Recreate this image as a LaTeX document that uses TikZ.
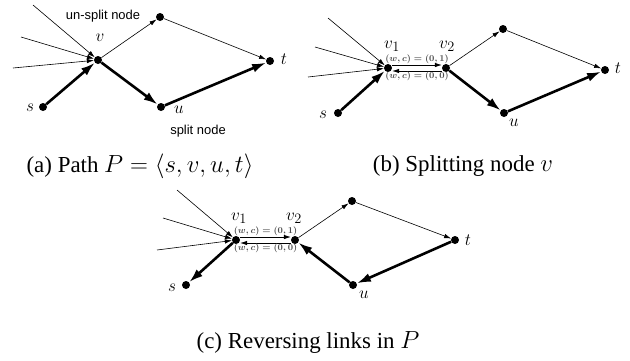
\documentclass[tikz,border=0pt]{standalone}
\usepackage{fontspec}
\setmainfont{Liberation Serif}
\setsansfont{Liberation Sans}
\usetikzlibrary{arrows.meta}
\begin{document}
\begin{tikzpicture}[x=1bp,y=-1bp,
  dot/.style={circle,fill=black,inner sep=0pt,minimum size=8bp},
  lbl/.style={font=\fontsize{19}{21}\selectfont,inner sep=0pt},
  note/.style={font=\sffamily\fontsize{13}{15}\selectfont,inner sep=0pt},
  wc/.style={font=\fontsize{9}{10}\selectfont\boldmath,text=black!70,inner sep=0.5pt},
  captxt/.style={font=\fontsize{23}{26}\selectfont},
  thinedge/.style={-{Latex[length=7bp,width=4.5bp]},line width=0.6bp},
  pathedge/.style={-{Latex[length=14bp,width=9bp]},line width=2.6bp}]
\useasboundingbox (0,0) rectangle (630,360);
% (a) path P
\node[dot] (sA) at (43,107) {}; \node[dot] (vA) at (98,60) {}; \node[dot] (wA) at (160,17) {};
\node[dot] (tA) at (270,61) {}; \node[dot] (uA) at (161,107) {};
\coordinate (inA1) at (33,5); \coordinate (inA2) at (21,37); \coordinate (inA3) at (13,68);
\draw[thinedge] (inA1) -- (vA); \draw[thinedge] (inA2) -- (vA); \draw[thinedge] (inA3) -- (vA);
\draw[thinedge] (vA) -- (wA); \draw[thinedge] (wA) -- (tA);
\draw[pathedge] (sA) -- (vA); \draw[pathedge] (vA) -- (uA); \draw[pathedge] (uA) -- (tA);
\node[lbl] (sAl) at (30,108) {$s$}; \node[lbl] (vAl) at (100,38) {$v$};
\node[lbl] (uAl) at (179,110) {$u$}; \node[lbl] (tAl) at (284,59) {$t$};
\node[note] (unsplit) at (103,16) {un-split node};
\node[note] (split) at (198,131) {split node};
\node[captxt] (capA) at (140,166) {(a) Path $P=\langle s,v,u,t\rangle$};
% (b) splitting node v
\node[dot] (sB) at (338,113) {}; \node[dot] (vB1) at (388,68) {}; \node[dot] (vB2) at (446,68) {};
\node[dot] (wB) at (503,29) {}; \node[dot] (tB) at (605,70) {}; \node[dot] (uB) at (504,113) {};
\coordinate (inB1) at (328,18); \coordinate (inB2) at (315,47); \coordinate (inB3) at (308,77);
\draw[thinedge] (inB1) -- (vB1); \draw[thinedge] (inB2) -- (vB1); \draw[thinedge] (inB3) -- (vB1);
\draw[thinedge] ([yshift=3bp]vB1.east) -- node[wc,above] (wcB1) {$(w,c)=(0,1)$} ([yshift=3bp]vB2.west);
\draw[thinedge] ([yshift=-3bp]vB2.west) -- node[wc,below] (wcB0) {$(w,c)=(0,0)$} ([yshift=-3bp]vB1.east);
\draw[thinedge] (vB2) -- (wB); \draw[thinedge] (wB) -- (tB);
\draw[pathedge] (sB) -- (vB1); \draw[pathedge] (vB2) -- (uB); \draw[pathedge] (uB) -- (tB);
\node[lbl] (sBl) at (323,115) {$s$}; \node[lbl] (vB1l) at (392,46) {$v_1$}; \node[lbl] (vB2l) at (447,46) {$v_2$};
\node[lbl] (uBl) at (514,123) {$u$}; \node[lbl] (tBl) at (618,68) {$t$};
\node[captxt] (capB) at (463,166) {(b) Splitting node $v$};
% (c) reversing links in P
\node[dot] (sC) at (186,285) {}; \node[dot] (vC1) at (236,240) {}; \node[dot] (vC2) at (295,240) {};
\node[dot] (wC) at (352,201) {}; \node[dot] (tC) at (455,240) {}; \node[dot] (uC) at (353,285) {};
\coordinate (inC1) at (177,190); \coordinate (inC2) at (163,218); \coordinate (inC3) at (157,250);
\draw[thinedge] (inC1) -- (vC1); \draw[thinedge] (inC2) -- (vC1); \draw[thinedge] (inC3) -- (vC1);
\draw[thinedge] ([yshift=3bp]vC1.east) -- node[wc,above] (wcC1) {$(w,c)=(0,1)$} ([yshift=3bp]vC2.west);
\draw[thinedge] ([yshift=-3bp]vC2.west) -- node[wc,below] (wcC0) {$(w,c)=(0,0)$} ([yshift=-3bp]vC1.east);
\draw[thinedge] (vC2) -- (wC); \draw[thinedge] (wC) -- (tC);
\draw[pathedge] (vC1) -- (sC); \draw[pathedge] (tC) -- (uC); \draw[pathedge] (uC) -- (vC2);
\node[lbl] (sCl) at (172,288) {$s$}; \node[lbl] (vC1l) at (239,218) {$v_1$}; \node[lbl] (vC2l) at (294,218) {$v_2$};
\node[lbl] (uCl) at (364,295) {$u$}; \node[lbl] (tCl) at (468,240) {$t$};
\node[captxt] (capC) at (308,342) {(c) Reversing links in $P$};
\end{tikzpicture}
\end{document}
